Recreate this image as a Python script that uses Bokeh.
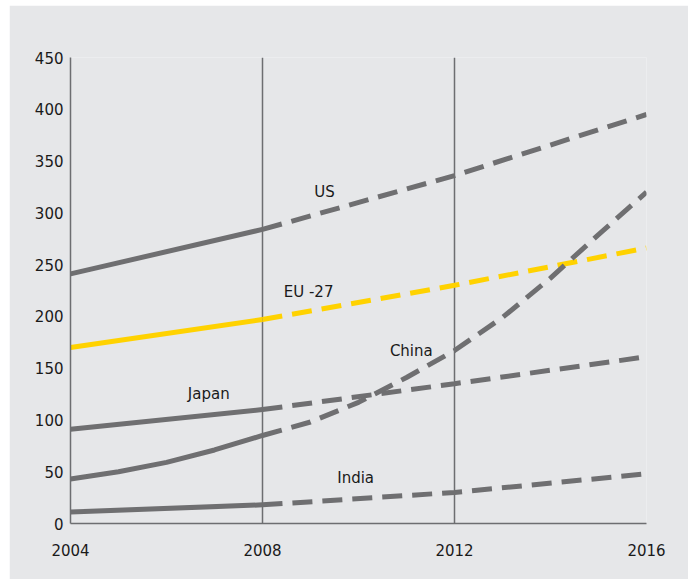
from bokeh.plotting import figure
from bokeh.models import Span, FixedTicker, Range1d, Label
from bokeh.embed import file_html
from bokeh.resources import INLINE

# ---- data ----
years = [2004, 2008, 2012, 2016]
china_years = [2004, 2005, 2006, 2007, 2008, 2009, 2010, 2011, 2012, 2013, 2014, 2015, 2016]
us = [241, 284, 336, 395]
eu27 = [170, 197, 230, 266]
japan = [91, 110, 135, 161]
china = [43, 50, 59, 71, 85, 98, 117, 141, 167, 199, 237, 279, 320]
india = [11, 18, 30, 48]
split_year = 2008          # solid up to here, dashed afterwards (forecast)
ref_years = [2008, 2012]   # vertical reference lines
x_ticks = [2004, 2008, 2012, 2016]
y_ticks = [0, 50, 100, 150, 200, 250, 300, 350, 400, 450]
label_names = ["US", "EU -27", "China", "Japan", "India"]
label_x = [2009.29, 2008.96, 2011.10, 2006.88, 2009.94]
label_y = [320, 224, 167, 125, 44]

BG = "#e6e7e9"
GRAY = "#6f6f71"
YELLOW = "#ffd200"
AXIS = "#6d6e71"
TEXT = "#1a1a1a"
FONT = "DejaVu Sans"

p = figure(width=679, height=574, margin=(5, 4, 0, 9),
           x_range=Range1d(2004, 2016), y_range=Range1d(0, 450),
           output_backend="svg", toolbar_location=None,
           min_border_left=61, min_border_right=42,
           min_border_top=52, min_border_bottom=56)
p.background_fill_color = BG
p.border_fill_color = BG
p.outline_line_color = None
p.xgrid.visible = False
p.ygrid.visible = False

for ry in ref_years:
    p.add_layout(Span(location=ry, dimension="height", line_color=AXIS,
                      line_width=1.5, level="underlay"))


def draw(xs, ys, color):
    solid_x = [x for x in xs if x <= split_year]
    solid_y = [y for x, y in zip(xs, ys) if x <= split_year]
    dash_x = [x for x in xs if x >= split_year]
    dash_y = [y for x, y in zip(xs, ys) if x >= split_year]
    p.line(solid_x, solid_y, line_color=color, line_width=5)
    p.line(dash_x, dash_y, line_color=color, line_width=5, line_dash="20 10")


draw(years, eu27, YELLOW)
draw(years, us, GRAY)
draw(years, japan, GRAY)
draw(years, india, GRAY)
draw(china_years, china, GRAY)

for name, lx, ly in zip(label_names, label_x, label_y):
    p.add_layout(Label(x=lx, y=ly, text=name, text_align="center",
                       text_baseline="middle", text_font=FONT,
                       text_font_size="15px", text_color=TEXT))

for ax in (p.xaxis[0], p.yaxis[0]):
    ax.axis_line_color = AXIS
    ax.axis_line_width = 1.5
    ax.major_tick_in = 0
    ax.major_tick_out = 0
    ax.minor_tick_in = 0
    ax.minor_tick_out = 0
    ax.major_label_text_font = FONT
    ax.major_label_text_font_size = "15px"
    ax.major_label_text_color = TEXT

p.xaxis.ticker = FixedTicker(ticks=x_ticks)
p.yaxis.ticker = FixedTicker(ticks=y_ticks)
p.xaxis.major_label_standoff = 20
p.yaxis.major_label_standoff = 7

open("out.html", "w").write(file_html(p, INLINE))
